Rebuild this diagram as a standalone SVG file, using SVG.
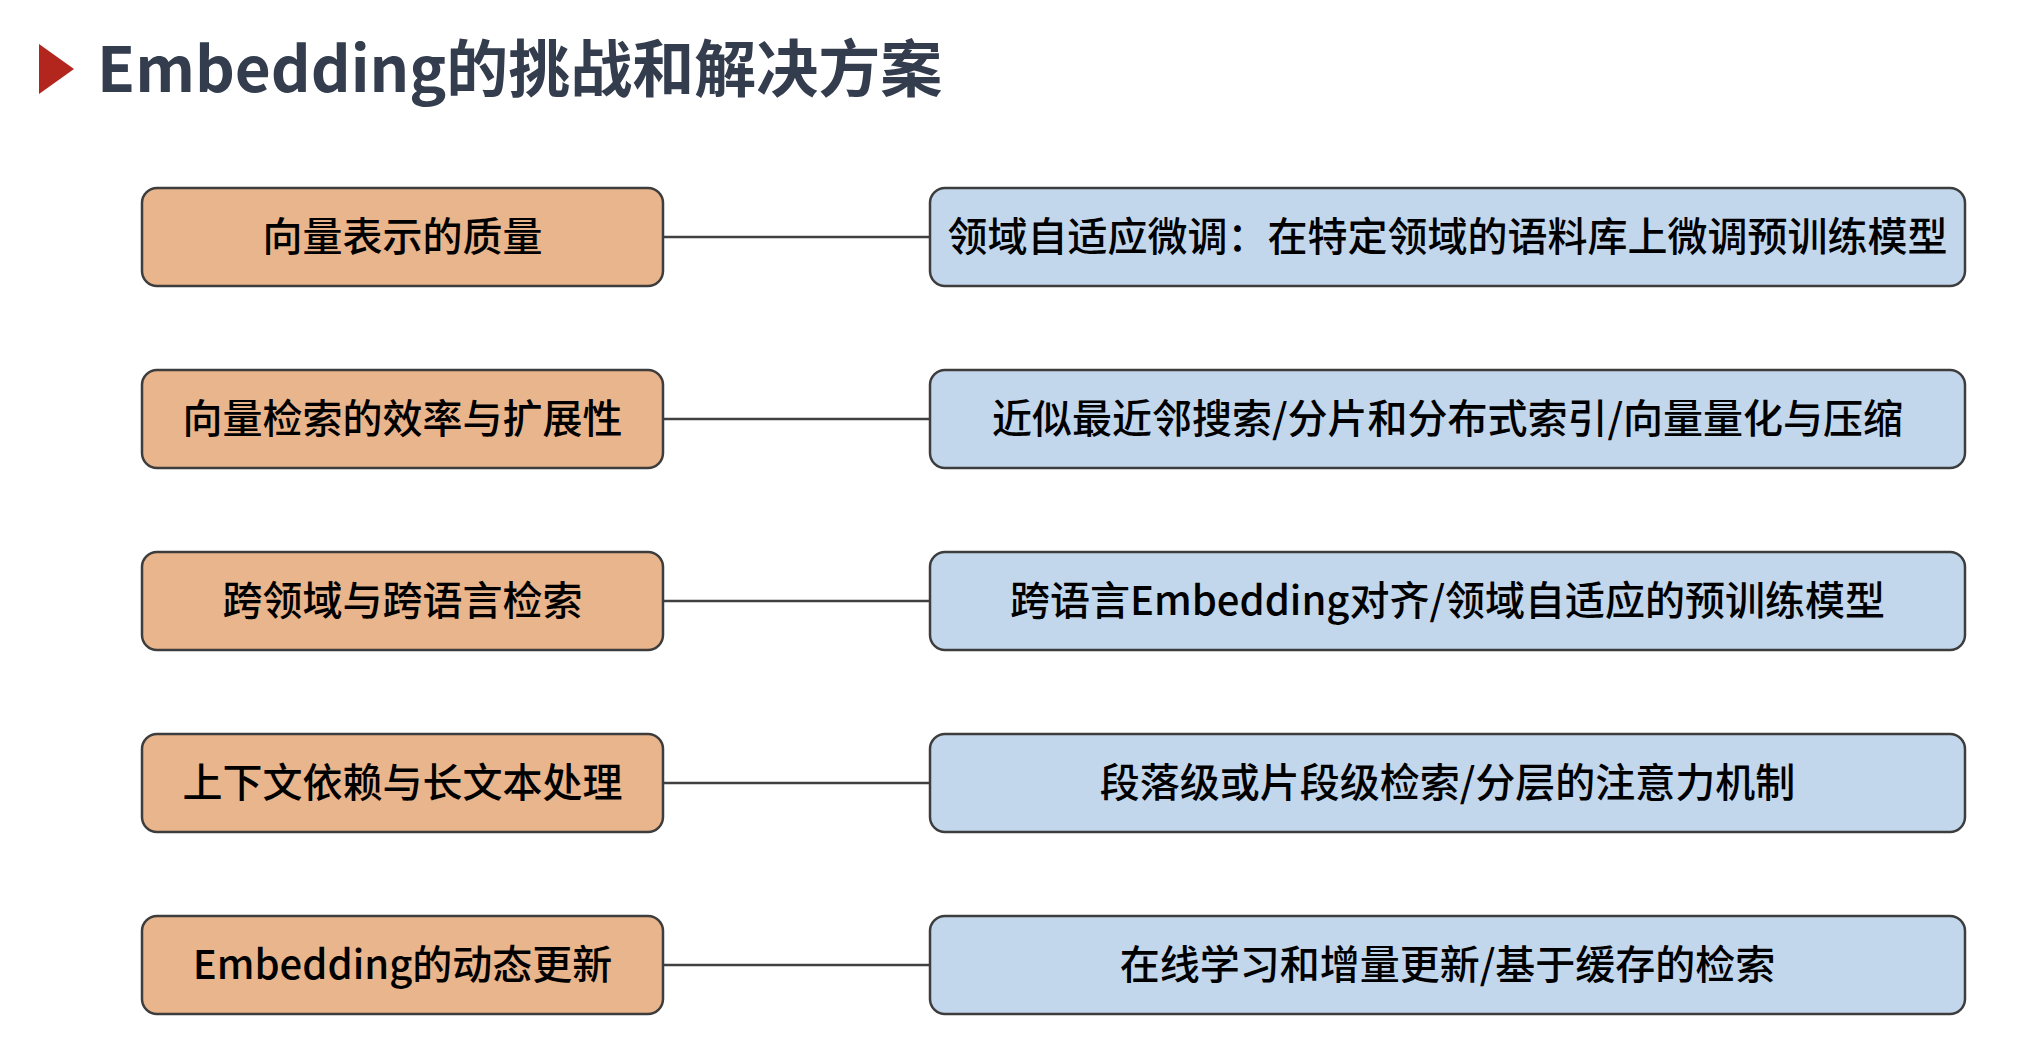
<svg xmlns="http://www.w3.org/2000/svg" width="2030" height="1048" viewBox="0 0 2030 1048">
<style>
.ch rect{fill:#E9B58C;stroke:#3d3d3d;stroke-width:2.5}
.so rect{fill:#C3D7EC;stroke:#3d3d3d;stroke-width:2.5}
.lbl{font-family:"Microsoft YaHei","Noto Sans CJK SC","Noto Sans",sans-serif;font-size:40px;font-weight:500;fill:#000;text-anchor:middle;dominant-baseline:central}
.conn line{stroke:#404040;stroke-width:2.5}
.title{font-family:"Noto Sans CJK SC","Noto Sans",sans-serif;font-size:62px;font-weight:bold;fill:#333d4d}
</style>
<rect width="2030" height="1048" fill="#ffffff"/>
<g id="title">
<polygon points="39,44 74,69 39,94" fill="#B3261E"/>
<text class="title" x="97" y="92">Embedding的挑战和解决方案</text>
</g>
<g id="connectors" class="conn">
<line x1="663" y1="237" x2="930" y2="237"/>
<line x1="663" y1="419" x2="930" y2="419"/>
<line x1="663" y1="601" x2="930" y2="601"/>
<line x1="663" y1="783" x2="930" y2="783"/>
<line x1="663" y1="965" x2="930" y2="965"/>
</g>
<g id="c1" class="ch"><rect x="142" y="188" width="521" height="98" rx="15"/><text class="lbl" x="402.5" y="234">向量表示的质量</text></g>
<g id="c2" class="ch"><rect x="142" y="370" width="521" height="98" rx="15"/><text class="lbl" x="402.5" y="416">向量检索的效率与扩展性</text></g>
<g id="c3" class="ch"><rect x="142" y="552" width="521" height="98" rx="15"/><text class="lbl" x="402.5" y="598">跨领域与跨语言检索</text></g>
<g id="c4" class="ch"><rect x="142" y="734" width="521" height="98" rx="15"/><text class="lbl" x="402.5" y="780">上下文依赖与长文本处理</text></g>
<g id="c5" class="ch"><rect x="142" y="916" width="521" height="98" rx="15"/><text class="lbl" x="402.5" y="962">Embedding的动态更新</text></g>
<g id="s1" class="so"><rect x="930" y="188" width="1035" height="98" rx="15"/><text class="lbl" x="1447.5" y="234">领域自适应微调：在特定领域的语料库上微调预训练模型</text></g>
<g id="s2" class="so"><rect x="930" y="370" width="1035" height="98" rx="15"/><text class="lbl" x="1447.5" y="416">近似最近邻搜索/分片和分布式索引/向量量化与压缩</text></g>
<g id="s3" class="so"><rect x="930" y="552" width="1035" height="98" rx="15"/><text class="lbl" x="1447.5" y="598">跨语言Embedding对齐/领域自适应的预训练模型</text></g>
<g id="s4" class="so"><rect x="930" y="734" width="1035" height="98" rx="15"/><text class="lbl" x="1447.5" y="780">段落级或片段级检索/分层的注意力机制</text></g>
<g id="s5" class="so"><rect x="930" y="916" width="1035" height="98" rx="15"/><text class="lbl" x="1447.5" y="962">在线学习和增量更新/基于缓存的检索</text></g>
</svg>
